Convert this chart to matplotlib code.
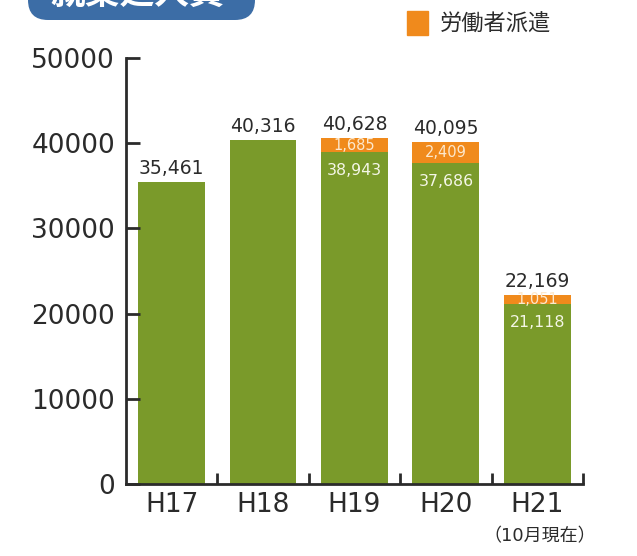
import matplotlib.pyplot as plt
import numpy as np
from matplotlib.patches import FancyBboxPatch, Patch

plt.rcParams['font.family'] = ['DejaVu Sans', 'Noto Sans CJK JP']

years = ['H17', 'H18', 'H19', 'H20', 'H21']
direct = np.array([35461, 40316, 38943, 37686, 21118])   # 直接雇用分
dispatch = np.array([0, 0, 1685, 2409, 1051])            # 労働者派遣
totals = direct + dispatch

green = '#7a9a2a'
orange = '#f08a1c'
dark = '#2b2b2b'

fig = plt.figure(figsize=(6.37, 5.56), dpi=100)
ax = fig.add_axes([0.198, 0.1295, 0.717, 0.7662])

x = np.arange(len(years))
ax.bar(x, direct, width=0.73, color=green)
ax.bar(x, dispatch, width=0.73, bottom=direct, color=orange)

for i in range(len(years)):
    ax.text(x[i], totals[i] + 500, f'{totals[i]:,}', ha='center', va='bottom',
            fontsize=13.5, color=dark)
    if dispatch[i] > 0:
        ax.text(x[i], direct[i] + dispatch[i] / 2, f'{dispatch[i]:,}', ha='center',
                va='center', fontsize=10.5, color='#fde8cc')
        ax.text(x[i], direct[i] - 2200, f'{direct[i]:,}', ha='center', va='center',
                fontsize=11.3, color='#f4f6e6')

ax.set_xlim(-0.5, 4.5)
ax.set_ylim(0, 50000)
ax.set_yticks(np.arange(0, 50001, 10000))
ax.tick_params(axis='y', direction='in', length=10, width=2, color=dark,
               labelsize=19, labelcolor=dark, pad=8)

ax.set_xticks(x)
ax.set_xticklabels(years)
ax.tick_params(axis='x', length=0, labelsize=19, labelcolor=dark, pad=6)
ax.set_xticks(np.arange(0.5, 5, 1), minor=True)
ax.tick_params(axis='x', which='minor', direction='in', length=8, width=2, color=dark)

for s in ['top', 'right']:
    ax.spines[s].set_visible(False)
for s in ['left', 'bottom']:
    ax.spines[s].set_linewidth(2)
    ax.spines[s].set_color(dark)

ax.text(4.03, -0.122, '（10月現在）', transform=ax.get_xaxis_transform(), ha='center',
        va='center', fontsize=13, color=dark)

# title box, cut by the top edge
box = FancyBboxPatch((0.28, 5.36), 2.27, 0.6, boxstyle='round,pad=0,rounding_size=0.2',
                     transform=fig.dpi_scale_trans, facecolor='#3c6da6', edgecolor='none')
fig.add_artist(box)
fig.text(1.375 / 6.37, 1 + 6 / 556, '就業延人員', ha='center', va='center',
         fontsize=25, fontweight='bold', color='white')

fig.legend(handles=[Patch(color=orange, label='労働者派遣')], loc='center left',
           bbox_to_anchor=(0.608, 0.958), frameon=False, fontsize=16,
           handlelength=0.95, handleheight=1.3, handletextpad=0.5,
           labelcolor=dark)

fig.savefig('out.png', dpi=100)
